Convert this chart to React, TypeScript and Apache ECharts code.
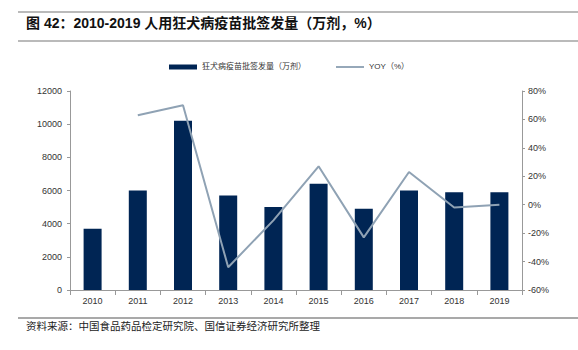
import React, { useEffect, useRef } from "react";
import * as echarts from "echarts";

const years = ["2010", "2011", "2012", "2013", "2014", "2015", "2016", "2017", "2018", "2019"];
const batches = [3700, 6000, 10200, 5700, 5000, 6400, 4900, 6000, 5900, 5900];
const yoy = [null, 63, 70, -44, -11, 27, -23, 23, -2, 0];
const barName = "狂犬病疫苗批签发量（万剂）";
const lineName = "YOY（%）";

export default function App() {
  const ref = useRef<HTMLDivElement>(null);
  useEffect(() => {
    const chart = echarts.init(ref.current!, null, { renderer: "svg" });
    const font = "'Liberation Sans', Arial, 'Noto Sans CJK SC', sans-serif";
    chart.setOption({
      animation: false,
      textStyle: { fontFamily: font },
      graphic: [
        { type: "line", shape: { x1: 18, y1: 12, x2: 578, y2: 12 }, style: { stroke: "#777", lineWidth: 1.2 } },
        { type: "line", shape: { x1: 18, y1: 41, x2: 578, y2: 41 }, style: { stroke: "#777", lineWidth: 1.2 } },
        {
          type: "text", left: 26, top: 16,
          style: { text: "图 42：2010-2019 人用狂犬病疫苗批签发量（万剂，%）", font: "bold 14px 'Liberation Sans', 'Noto Sans CJK SC', sans-serif", fill: "#111" },
        },
        { type: "line", shape: { x1: 18, y1: 318, x2: 578, y2: 318 }, style: { stroke: "#555", lineWidth: 1.2 } },
        {
          type: "text", left: 26, top: 320,
          style: { text: "资料来源：中国食品药品检定研究院、国信证券经济研究所整理", font: "10.5px 'Noto Sans CJK SC', sans-serif", fill: "#222" },
        },
      ],
      legend: {
        top: 58, left: "center", itemGap: 30, itemWidth: 28, itemHeight: 5,
        textStyle: { fontSize: 8, color: "#333" },
        data: [
          { name: barName, icon: "rect" },
          { name: lineName, icon: "path://M0,0H30V2H0Z" },
        ],
      },
      grid: { left: 70, right: 56, top: 91, bottom: 60, containLabel: false },
      xAxis: {
        type: "category", data: years,
        axisLine: { lineStyle: { color: "#999" } },
        axisTick: { show: true, lineStyle: { color: "#999" } },
        axisLabel: { fontSize: 9, color: "#333", margin: 6 },
      },
      yAxis: [
        {
          type: "value", min: 0, max: 12000, interval: 2000,
          axisLine: { show: true, lineStyle: { color: "#999" } },
          axisTick: { show: true, length: 3, lineStyle: { color: "#999" } },
          splitLine: { show: false },
          axisLabel: { fontSize: 9, color: "#333", margin: 8, formatter: (v: number) => String(v) },
        },
        {
          type: "value", min: -60, max: 80, interval: 20,
          axisLine: { show: true, lineStyle: { color: "#999" } },
          axisTick: { show: true, length: 3, lineStyle: { color: "#999" } },
          splitLine: { show: false },
          axisLabel: { fontSize: 9, color: "#333", formatter: (v: number) => v + "%", margin: 6 },
        },
      ],
      series: [
        {
          name: barName, type: "bar", data: batches, barWidth: 18,
          itemStyle: { color: "#002554" },
        },
        {
          name: lineName, type: "line", yAxisIndex: 1, data: yoy,
          showSymbol: false, symbol: "none",
          lineStyle: { color: "#8fa2b4", width: 2 },
          itemStyle: { color: "#8fa2b4" },
        },
      ],
    });
    return () => chart.dispose();
  }, []);
  return <div ref={ref} style={{ position: "absolute", left: 0, top: 0, width: 578, height: 350 }} />;
}
